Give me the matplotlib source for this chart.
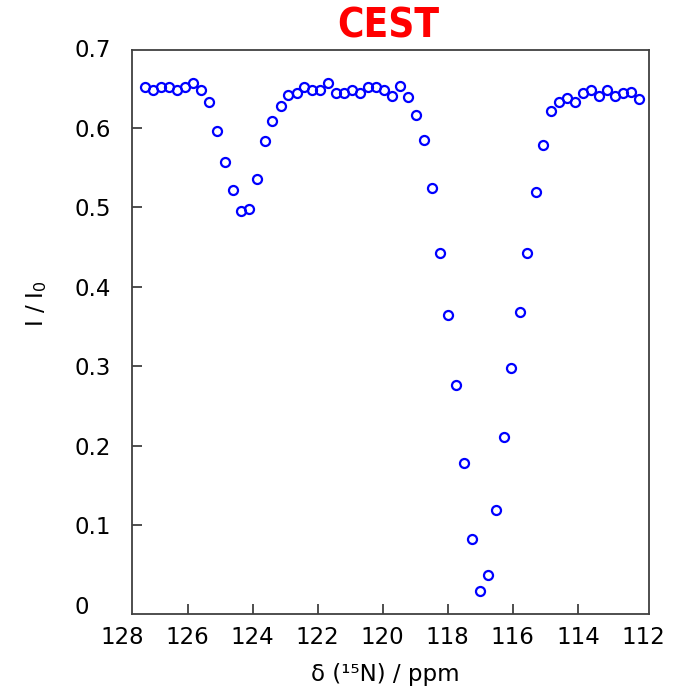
import matplotlib
matplotlib.use('Agg')
import matplotlib.pyplot as plt

# desplazamiento químico (ppm) y señal normalizada
shift_ppm = [127.31, 127.06, 126.82, 126.57, 126.33, 126.08, 125.84, 125.59,
             125.35, 125.10, 124.86, 124.61, 124.37, 124.12, 123.88, 123.63,
             123.39, 123.14, 122.90, 122.65, 122.41, 122.16, 121.92, 121.67,
             121.43, 121.18, 120.94, 120.69, 120.45, 120.20, 119.96, 119.71,
             119.47, 119.22, 118.98, 118.73, 118.49, 118.24, 118.00, 117.75,
             117.51, 117.26, 117.02, 116.77, 116.53, 116.28, 116.04, 115.79,
             115.55, 115.30, 115.06, 114.81, 114.57, 114.32, 114.08, 113.83,
             113.59, 113.34, 113.10, 112.85, 112.61, 112.36, 112.11]
intensity = [0.652, 0.648, 0.652, 0.652, 0.648, 0.652, 0.657, 0.648,
             0.632, 0.596, 0.557, 0.522, 0.496, 0.498, 0.536, 0.584,
             0.609, 0.628, 0.642, 0.644, 0.652, 0.648, 0.648, 0.657,
             0.644, 0.644, 0.648, 0.644, 0.652, 0.652, 0.648, 0.640,
             0.653, 0.639, 0.616, 0.585, 0.524, 0.442, 0.365, 0.277,
             0.178, 0.083, 0.017, 0.037, 0.119, 0.211, 0.298, 0.368,
             0.442, 0.519, 0.578, 0.621, 0.633, 0.638, 0.632, 0.644,
             0.648, 0.640, 0.648, 0.640, 0.644, 0.645, 0.637]

xticks = [126, 124, 122, 120, 118, 116, 114]
yticks = [0.1, 0.2, 0.3, 0.4, 0.5, 0.6]
edge_xlabels = [128, 112]
edge_ylabels = [0, 0.7]

fig = plt.figure(figsize=(6.92, 6.90), dpi=100)
ax = fig.add_axes([0.1908, 0.1097, 0.7471, 0.8178])

ax.plot(shift_ppm, intensity, 'o', mfc='none', mec='#0000ff', ms=6.5, mew=1.6)

ax.set_xlim(127.71, 111.81)
ax.set_ylim(-0.012, 0.698)

for s in ax.spines.values():
    s.set_color('#404040')
    s.set_linewidth(1.3)

ax.set_xticks(xticks)
ax.set_yticks(yticks)
ax.set_xticklabels([str(t) for t in xticks])
ax.set_yticklabels([f'{t:g}' for t in yticks], ha='left')
ax.tick_params(axis='x', direction='in', length=7.5, width=1.3, color='#404040',
               labelsize=16.5, pad=8.5, top=False)
ax.tick_params(axis='y', direction='in', length=7.5, width=1.3, color='#404040',
               labelsize=16.5, pad=41.5, right=False)

# etiquetas en los extremos, fuera del rango de los ejes
for v in edge_xlabels:
    ax.annotate(str(v), xy=(v, 0), xycoords=('data', 'axes fraction'),
                xytext=(0, -8.5), textcoords='offset points',
                ha='center', va='top', fontsize=16.5)
for v in edge_ylabels:
    ax.annotate(f'{v:g}', xy=(0, v), xycoords=('axes fraction', 'data'),
                xytext=(-41.5, 0), textcoords='offset points',
                ha='left', va='center_baseline', fontsize=16.5)

ax.set_xlabel('δ (¹⁵N) / ppm', fontsize=16.5)
ax.set_ylabel(r'I / I$_0$', fontsize=16.5)
ax.xaxis.set_label_coords(0.49, -0.087)
ax.yaxis.set_label_coords(-0.16, 0.55)

fig.text(0.561, 0.945, 'CEST', color='red', fontsize=29, fontweight='bold',
         fontstretch='condensed', ha='center', va='baseline')

fig.savefig('out.png', dpi=100)
